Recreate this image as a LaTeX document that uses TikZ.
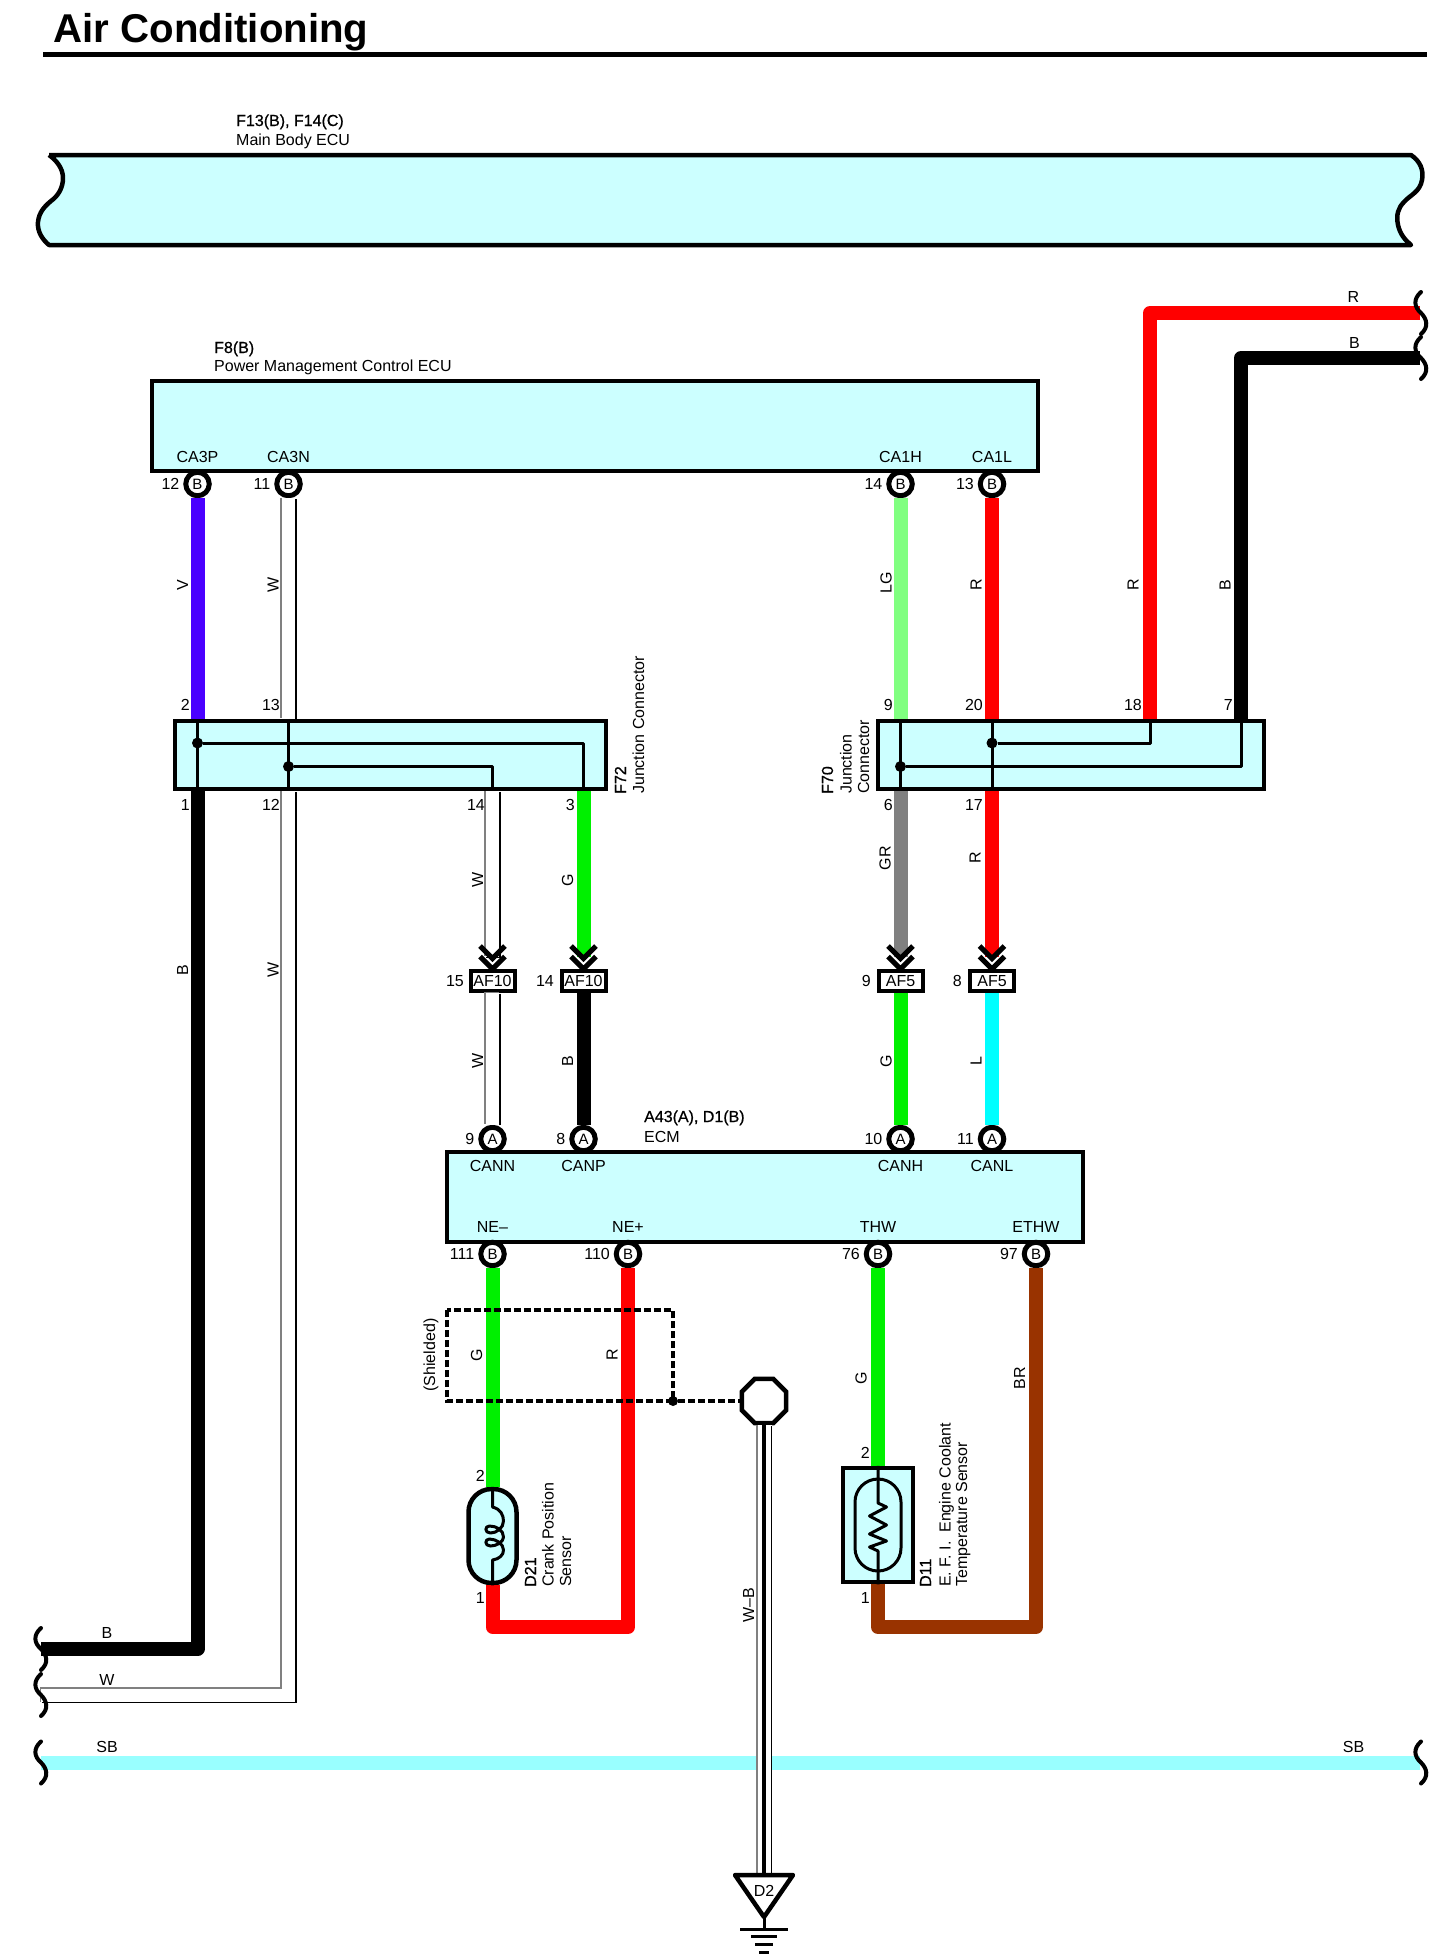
\documentclass[tikz,border=0pt]{standalone}
\usepackage{fontspec}
\setmainfont{Liberation Sans}
\newfontface\partFace[FakeBold=0.7]{Liberation Sans}
\usetikzlibrary{calc, positioning, shapes.geometric}
\definecolor{boxCyan}{HTML}{CCFFFF}
\definecolor{wireViolet}{HTML}{4A00FF}
\definecolor{wireLime}{HTML}{80FF80}
\definecolor{wireRed}{HTML}{FF0000}
\definecolor{wireGreen}{HTML}{00F000}
\definecolor{wireGray}{HTML}{808080}
\definecolor{wireAqua}{HTML}{00FFFF}
\definecolor{wireBrown}{HTML}{993300}
\definecolor{wireSky}{HTML}{99FFFF}
\tikzset{
    tagText/.style={font=\fontsize{16}{18}\selectfont, inner sep=0pt},
    tagBold/.style={font=\fontsize{16}{18}\partFace, inner sep=0pt},
    wire/.style={line width=14pt, line join=round},
    whiteWire/.style={
        preaction={draw=black, line width=15pt, transform canvas={xshift=0.7pt, yshift=-0.7pt}},
        preaction={draw=wireGray, line width=15pt, transform canvas={xshift=-0.7pt, yshift=0.7pt}},
        draw=white, line width=13pt},
    partBox/.style={draw, fill=boxCyan, line width=4.5pt, inner sep=0pt},
    capsule/.style={draw, line width=4.5pt, inner sep=0pt, rounded corners=23pt},
    pinRing/.style={circle, draw, fill=white, line width=5pt, minimum size=23.5pt, inner sep=0pt,
        font=\fontsize{15}{18}\selectfont},
    afBox/.style={draw, fill=white, line width=4pt, minimum width=44pt, minimum height=20pt,
        inner sep=0pt, font=\fontsize{16}{18}\selectfont},
    innerLine/.style={line width=3pt, line join=round},
    joinDot/.style={circle, fill=black, minimum size=11pt, inner sep=0pt},
    shieldLine/.style={line width=3.5pt, dash pattern=on 7pt off 3pt},
    breakMark/.pic={
        \draw[line width=4pt, line cap=round] (0,-21) .. controls (-8,-14) and (-7,-6) .. (0,0) .. controls (6,6) and (8,14) .. (0,21);
    },
    chevrons/.pic={
        \draw[line width=5pt] (-12.5,-12.5) -- (0,0) -- (12.5,-12.5);
        \draw[line width=5pt] (-12.5,-23) -- (0,-10.5) -- (12.5,-23);
    }
}
\begin{document}
\begin{tikzpicture}[x=1pt, y=-1pt]
    \useasboundingbox (0,0) rectangle (1451,1960);
    \node[anchor=base west, inner sep=0pt, font=\fontsize{40.2}{44}\selectfont\bfseries] (titleAir) at (53.5,42) {Air Conditioning};
    \draw[line width=5pt] (43,54) -- (1427,54);

    \draw[fill=boxCyan, line width=4.5pt, line join=round] (49,155) -- (1411,155)
        .. controls (1420,161) and (1424,170) .. (1422,180) .. controls (1420,192) and (1410,195) .. (1404,202)
        .. controls (1398,208) and (1396,215) .. (1398,225) .. controls (1400,234) and (1405,240) .. (1411,245)
        -- (49,245)
        .. controls (43,240) and (37,232) .. (38,222) .. controls (39,212) and (45,206) .. (51,201)
        .. controls (58,196) and (63,188) .. (63,178) .. controls (63,168) and (56,160) .. (49,155);

    \node[partBox, minimum width=886pt, minimum height=90pt] (ecuPower) at (595,426) {};
    \node[partBox, minimum width=431pt, minimum height=68pt] (jcF72) at (390.5,755) {};
    \node[partBox, minimum width=386pt, minimum height=68pt] (jcF70) at (1071,755) {};
    \node[partBox, minimum width=636pt, minimum height=90pt] (ecuEngine) at (765,1197) {};

    \foreach \pinName/\pinX/\pinY/\pinLetter/\pinNo/\sigY/\sigText in {
        CA3P/197.5/484/B/12/462/CA3P, CA3N/288.5/484/B/11/462/CA3N,
        CA1H/900.5/484/B/14/462/CA1H, CA1L/992/484/B/13/462/CA1L,
        CANN/492.5/1139/A/9/1171/CANN, CANP/583.5/1139/A/8/1171/CANP,
        CANH/900.5/1139/A/10/1171/CANH, CANL/992/1139/A/11/1171/CANL,
        NEm/492.5/1254/B/111/1232/NE–, NEp/628/1254/B/110/1232/NE+,
        THW/878/1254/B/76/1232/THW, ETHW/1036/1254/B/97/1232/ETHW} {
        \node[pinRing] (pin\pinName) at (\pinX,\pinY) {\pinLetter};
        \node[tagText, anchor=east] (num\pinName) at ({\pinX-18},\pinY) {\pinNo};
        \node[tagText, anchor=base] (sig\pinName) at (\pinX,\sigY) {\sigText};
    }

    \node[afBox] (afW) at (492.5,981) {AF10};
    \node[afBox] (afB) at (583.5,981) {AF10};
    \node[afBox] (afG) at (900.5,981) {AF5};
    \node[afBox] (afL) at (992,981) {AF5};

    \node[capsule, fill=boxCyan, minimum width=48pt, minimum height=94pt] (senD21) at (492.5,1536) {};
    \node[partBox, minimum width=70pt, minimum height=114pt] (senD11) at (878,1525) {};
    \node[capsule, line width=3pt, minimum width=46pt, minimum height=92pt] (bulbD11) at (878,1525) {};

    \coordinate (endB) at (41,1649);
    \coordinate (endW) at (41,1695);
    \coordinate (endSBl) at (41,1762.5);
    \coordinate (endSBr) at (1420,1762.5);
    \coordinate (endR) at (1420,313);
    \coordinate (endK) at (1420,358);
    \coordinate (termR) at (1150,721);
    \coordinate (termK) at (1241,721);
    \coordinate (cornerD21) at (492.5,1627);
    \coordinate (cornerD11) at (878,1627);

    \draw[wire, wireSky] (endSBl) -- (endSBr);

    \draw[wire, wireViolet] (pinCA3P) -- (pinCA3P |- jcF72.north);
    \draw[whiteWire] (pinCA3N) -- (pinCA3N |- jcF72.north);
    \draw[wire, wireLime] (pinCA1H) -- (pinCA1H |- jcF70.north);
    \draw[wire, wireRed] (pinCA1L) -- (pinCA1L |- jcF70.north);
    \draw[wire, wireRed] (termR |- jcF70.north) |- (endR);
    \draw[wire, black] (termK |- jcF70.north) |- (endK);

    \draw[wire, black] (pinCA3P |- jcF72.south) |- (endB);
    \draw[whiteWire] (pinCA3N |- jcF72.south) |- (endW);
    \draw[whiteWire, shorten >=12pt] (afW |- jcF72.south) -- (afW.north);
    \draw[wire, wireGreen, shorten >=12pt] (afB |- jcF72.south) -- (afB.north);
    \draw[wire, wireGray, shorten >=12pt] (afG |- jcF70.south) -- (afG.north);
    \draw[wire, wireRed, shorten >=12pt] (afL |- jcF70.south) -- (afL.north);

    \draw[whiteWire] (afW.south) -- (pinCANN);
    \draw[wire, black] (afB.south) -- (pinCANP);
    \draw[wire, wireGreen] (afG.south) -- (pinCANH);
    \draw[wire, wireAqua] (afL.south) -- (pinCANL);

    \draw[wire, wireGreen] (pinNEm) -- (senD21.north);
    \draw[wire, wireRed] (pinNEp) |- (cornerD21) -- (senD21.south);
    \draw[wire, wireGreen] (pinTHW) -- (senD11.north);
    \draw[wire, wireBrown] (pinETHW) |- (cornerD11) -- (senD11.south);

    \pic at (afW.north) {chevrons};
    \pic at (afB.north) {chevrons};
    \pic at (afG.north) {chevrons};
    \pic at (afL.north) {chevrons};

    \pic at (41,1649) {breakMark};
    \pic at (41,1695) {breakMark};
    \pic at (41,1762.5) {breakMark};
    \pic at (1421,313) {breakMark};
    \pic at (1421,358) {breakMark};
    \pic at (1421,1762.5) {breakMark};

    \node[joinDot] (dotA) at (197.5,743) {};
    \node[joinDot] (dotB) at (288.5,766.5) {};
    \node[joinDot] (dotC) at (992,743) {};
    \node[joinDot] (dotD) at (900.5,766.5) {};
    \draw[innerLine] (pinCA3P |- jcF72.north) -- (pinCA3P |- jcF72.south);
    \draw[innerLine] (pinCA3N |- jcF72.north) -- (pinCA3N |- jcF72.south);
    \draw[innerLine] (dotA) -| (afB |- jcF72.south);
    \draw[innerLine] (dotB) -| (afW |- jcF72.south);
    \draw[innerLine] (pinCA1H |- jcF70.north) -- (pinCA1H |- jcF70.south);
    \draw[innerLine] (pinCA1L |- jcF70.north) -- (pinCA1L |- jcF70.south);
    \draw[innerLine] (dotC) -| (termR);
    \draw[innerLine] (dotD) -| (termK);

    \draw[innerLine] (senD21.north) -- (492.5,1507) .. controls (500.5,1509) and (503.5,1515) .. (503.5,1521)
        .. controls (503.5,1528) and (496.5,1533) .. (490.5,1533) .. controls (484.5,1533) and (484.5,1526) .. (489.5,1526)
        .. controls (496.5,1526) and (503.5,1530) .. (503.5,1537) .. controls (503.5,1542) and (496.5,1546) .. (490.5,1546)
        .. controls (484.5,1546) and (484.5,1539) .. (489.5,1539) .. controls (496.5,1539) and (503.5,1544) .. (503.5,1550)
        .. controls (503.5,1555) and (499.5,1559) .. (492.5,1560) -- (senD21.south);
    \draw[innerLine] (senD11.north) -- (878,1503) -- (886.5,1507) -- (869.5,1516) -- (886.5,1525) -- (869.5,1534)
        -- (886.5,1541) -- (869.5,1547) -- (878,1551) -- (senD11.south);

    \coordinate (shieldA) at (447,1310);
    \coordinate (shieldB) at (673,1401);
    \node[regular polygon, regular polygon sides=8, draw, fill=white, line width=4.5pt, minimum size=48pt, inner sep=0pt] (octGround) at (764,1401) {};
    \node[joinDot, minimum size=10pt] (dotShield) at (shieldB) {};
    \draw[shieldLine] (shieldA) rectangle (shieldB);
    \draw[shieldLine] (dotShield) -- (octGround);

    \coordinate (triTop) at (764,1875);
    \coordinate (triTip) at (764,1917);
    \coordinate (stemEnd) at (764,1929);
    \draw[white, line width=16.5pt] (octGround) -- (triTop);
    \draw[whiteWire] (octGround) -- (triTop);
    \draw[line width=4pt] (octGround) -- (triTop);
    \draw[line width=4.5pt, line join=round] (735,1875) -- (793,1875) -- (triTip) -- cycle;
    \draw[line width=3pt] (triTip) -- (stemEnd);
    \foreach \barY/\barHalf in {1929/24, 1936/13, 1944/9, 1952/5}
        \draw[line width=3pt] ({764-\barHalf},\barY) -- ({764+\barHalf},\barY);
    \node[tagText] (lblD2) at (764,1891) {D2};

    \foreach \lblName/\lblX/\lblY/\lblText in {
        t2/190/705/2, t13/280/705/13, t1/190/805/1, t12/280/805/12, t14/485/805/14, t3/575/805/3,
        t9/893/705/9, t20/983/705/20, t18/1142/705/18, t7/1233/705/7, t6/893/805/6, t17/983/805/17,
        c15/464/981/15, c14/554/981/14, c9/871/981/9, c8/962/981/8,
        s2a/485/1476/2, s1a/485/1598/1, s2b/870/1453/2, s1b/870/1598/1}
        \node[tagText, anchor=east] (\lblName) at (\lblX,\lblY) {\lblText};

    \foreach \lblName/\lblX/\lblY/\lblText in {
        hR/1353.5/297/R, hK/1354.5/343/B, hB/107/1633/B, hW/107/1680/W, hSa/107/1747/SB, hSb/1353.5/1747/SB}
        \node[tagText] (\lblName) at (\lblX,\lblY) {\lblText};

    \foreach \lblName/\lblX/\lblY/\lblText in {
        vV/182.5/585/V, vW/273/585/W, vLG/886/583/LG, vRa/976/585/R, vRb/1133/585/R, vK/1225/585/B,
        vB/182.5/970/B, vWa/273/970/W, vWb/477.5/880/W, vG/567.5/880/G, vGR/885/858/GR, vRc/975/858/R,
        vWc/477.5/1061/W, vKb/567.5/1061/B, vGb/886/1061/G, vL/976/1061/L,
        vGc/476.5/1355/G, vRd/612/1355/R, vGd/861/1378/G, vBR/1019.5/1378/BR,
        vWB/748.5/1605/W–B, vSh/431/1355/(Shielded)}
        \node[tagText, rotate=90] (\lblName) at (\lblX,\lblY) {\lblText};

    \foreach \lblName/\lblX/\lblY/\lblText in {
        aF13/236/126/{F13(B), F14(C)}, aF8/214/353/F8(B), aA43/644/1122/{A43(A), D1(B)}}
        \node[tagBold, anchor=base west] (\lblName) at (\lblX,\lblY) {\lblText};
    \foreach \lblName/\lblX/\lblY/\lblText in {
        bBody/236/145/Main Body ECU, bPower/214/371/Power Management Control ECU, bEcm/644/1142/ECM}
        \node[tagText, anchor=base west] (\lblName) at (\lblX,\lblY) {\lblText};

    \foreach \lblName/\lblX/\lblY/\lblText in {
        rF72/626/794/F72, rF70/833/794/F70, rD21/536/1587/D21, rD11/931/1587/D11}
        \node[tagBold, rotate=90, anchor=base west] (\lblName) at (\lblX,\lblY) {\lblText};
    \foreach \lblName/\lblX/\lblY/\lblText in {
        sJa/644/794/Junction Connector, sJb/851.5/794/Junction, sJc/869/794/Connector,
        sCr/553.5/1587/Crank Position, sSe/571/1587/Sensor,
        sEf/950.5/1587/E. F. I.\ \ Engine Coolant, sTe/967/1587/Temperature Sensor}
        \node[tagText, rotate=90, anchor=base west] (\lblName) at (\lblX,\lblY) {\lblText};
\end{tikzpicture}
\end{document}
